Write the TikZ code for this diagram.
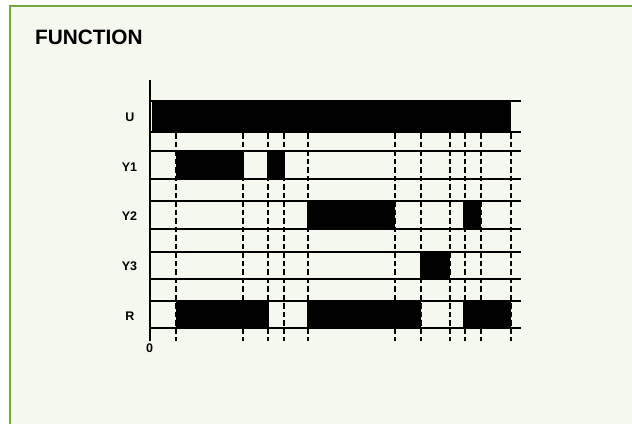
\documentclass[tikz,border=0pt]{standalone}
\usepackage{fontspec}
\setmainfont{Liberation Sans}
\definecolor{panelbg}{HTML}{F5F8EE}
\definecolor{panelframe}{HTML}{74A83A}
\tikzset{
  thinline/.style={line width=1.1bp, black},
  thickline/.style={line width=2bp, black},
  bar/.style={fill=black, draw=none},
  guide/.style={line width=2.3bp, black, dash pattern=on 5.5bp off 3bp},
  rowlabel/.style={anchor=base, font=\fontsize{12.5bp}{14bp}\selectfont\bfseries, inner sep=0pt},
}
\begin{document}
\begin{tikzpicture}[x=1bp,y=-1bp]
\useasboundingbox (0,0) rectangle (632,423);
\clip (0,0) rectangle (632,423);
\fill[white] (0,0) rectangle (632,423);
\draw[panelframe, fill=panelbg, line width=2bp] (10,6) rectangle (650,440);
\node[anchor=base west, inner sep=0pt, font=\fontsize{20.8bp}{24bp}\selectfont\bfseries] (title) at (35,44) {FUNCTION};
% dashed guides
\foreach \x in {176,243,268,284,308,395,421,450,465,481,511}
  \draw[guide] (\x,133) -- (\x,341);
% row lines
\foreach \t/\b in {101/132,151/179,201/229,252/279,301/328}{
  \draw[thinline] (150,\t) -- (521,\t);
  \draw[thickline] (150,\b) -- (521,\b);
}
% bars
\fill[bar] (152,101) rectangle (511,132);
\fill[bar] (176,151) rectangle (244,179);
\fill[bar] (267,151) rectangle (285,179);
\fill[bar] (307,201) rectangle (395,229);
\fill[bar] (463,201) rectangle (481,229);
\fill[bar] (420,252) rectangle (450,279);
\fill[bar] (176,301) rectangle (269,328);
\fill[bar] (307,301) rectangle (421,328);
\fill[bar] (463,301) rectangle (511,328);
% axis
\draw[line width=2.2bp] (150,80) -- (150,341);
% labels
\node[rowlabel] (lu) at (130,121) {U};
\node[rowlabel] (ly1) at (129.5,171) {Y1};
\node[rowlabel] (ly2) at (129.5,220) {Y2};
\node[rowlabel] (ly3) at (129.5,270) {Y3};
\node[rowlabel] (lr) at (130,320) {R};
\node[rowlabel] (zero) at (149.5,352) {0};
\end{tikzpicture}
\end{document}
